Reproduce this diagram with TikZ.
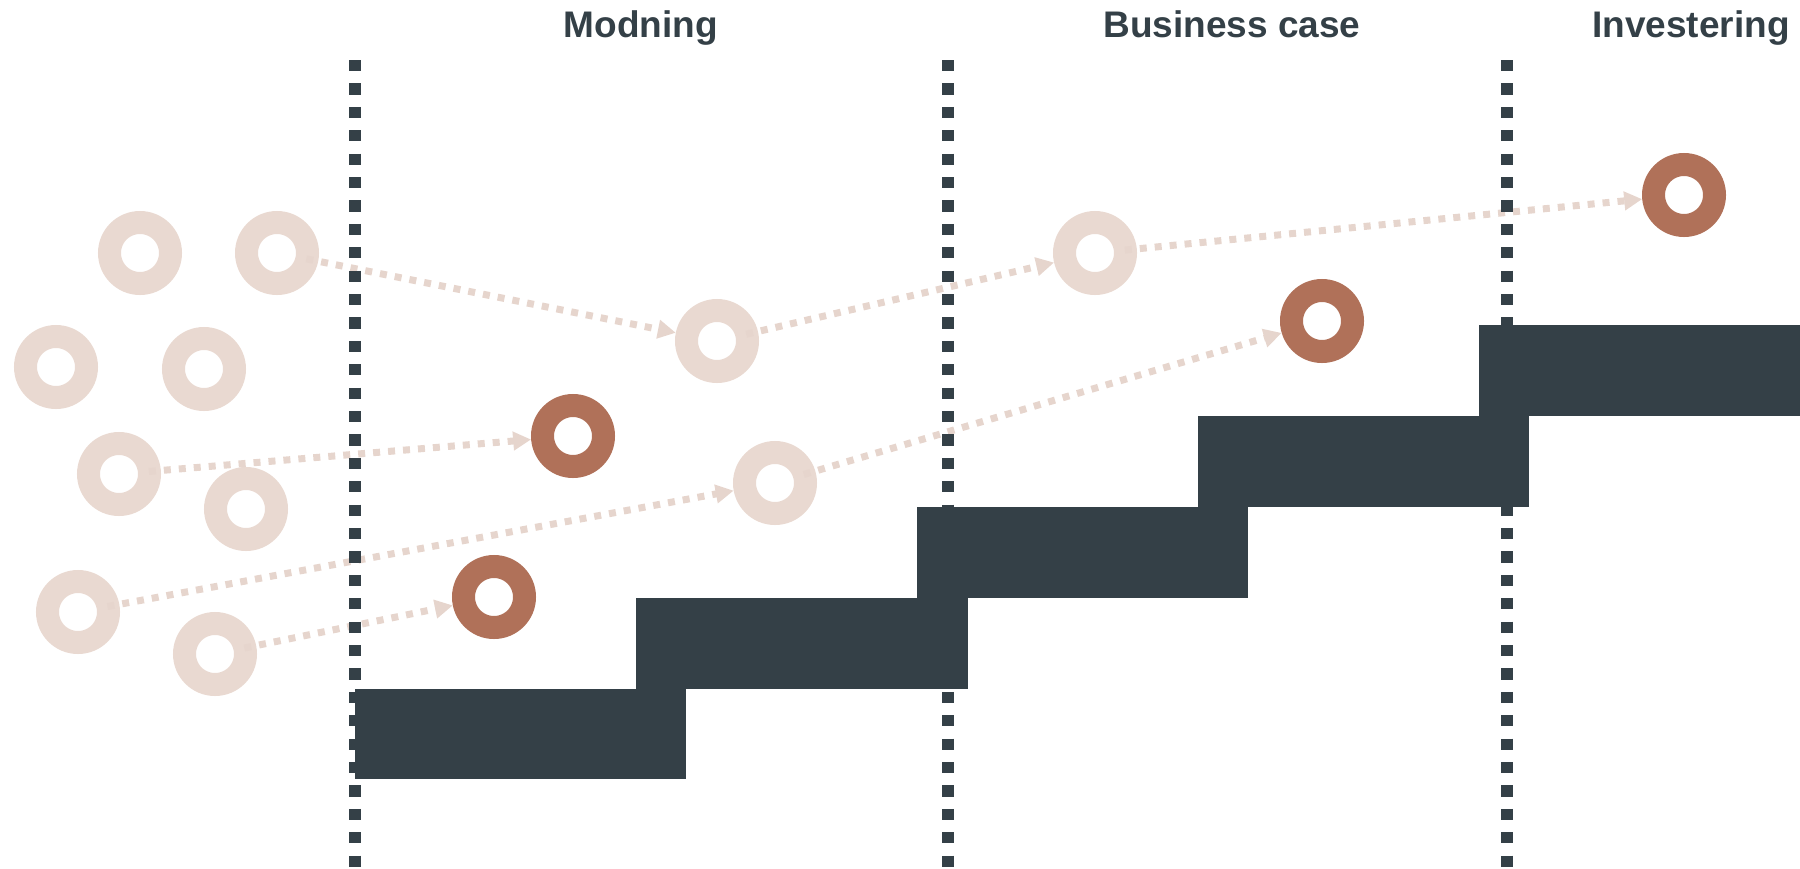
\documentclass[tikz,border=0pt]{standalone}
\usepackage{fontspec}
\setmainfont{Liberation Sans}
\usetikzlibrary{arrows.meta,calc}
\definecolor{slate}{HTML}{344047}
\definecolor{ringlight}{HTML}{E9D9D1}
\definecolor{ringdark}{HTML}{B07159}
\definecolor{dotc}{HTML}{E6D5CD}
\tikzset{
  lring/.style={circle,draw=ringlight,line width=11.5pt,minimum size=30.5pt,inner sep=0pt},
  dring/.style={circle,draw=ringdark,line width=11.5pt,minimum size=30.5pt,inner sep=0pt},
  flow/.style={draw=dotc,line width=3.5pt,dash pattern=on 3.5pt off 4pt,
    -{Triangle[length=9pt,width=9pt,fill=dotc,color=dotc]}},
  phase/.style={draw=slate,line width=6pt,dash pattern=on 5.6pt off 6.1pt},
  block/.style={fill=slate},
  title/.style={font=\bfseries\fontsize{18.5}{20}\selectfont,text=slate,anchor=base,inner sep=0pt}
}
\begin{document}
\begin{tikzpicture}[x=0.5pt,y=-0.5pt]
\useasboundingbox (0,0) rectangle (1800,868);
% rings
\node[lring] (A) at (140,253) {};
\node[lring] (B) at (277,253) {};
\node[lring] (C) at (56,367) {};
\node[lring] (D) at (204,369) {};
\node[lring] (E) at (119,474) {};
\node[lring] (F) at (246,509) {};
\node[lring] (G) at (78,612) {};
\node[lring] (H) at (215,654) {};
\node[lring] (I) at (717,341) {};
\node[lring] (J) at (775,483) {};
\node[lring] (K) at (1095,253) {};
\node[dring] (L) at (573,436) {};
\node[dring] (M) at (494,597) {};
\node[dring] (N) at (1322,321) {};
\node[dring] (O) at (1684,195) {};
% flows
\foreach \s/\t in {B/I,I/K,K/O,E/L,G/J,J/N,H/M}{
  \draw[flow] ($(\s)!15pt!(\t)$) -- ($(\t)!21pt!(\s)$);
}
% phase lines
\coordinate (p1t) at (355,60);  \coordinate (p1b) at (355,868);
\coordinate (p2t) at (948,60);  \coordinate (p2b) at (948,868);
\coordinate (p3t) at (1507,60); \coordinate (p3b) at (1507,868);
\draw[phase] (p1t) -- (p1b);
\draw[phase] (p2t) -- (p2b);
\draw[phase] (p3t) -- (p3b);
% stairs
\fill[block] (355,689) rectangle (686,779);
\fill[block] (636,598) rectangle (968,689);
\fill[block] (917,507) rectangle (1248,598);
\fill[block] (1198,416) rectangle (1529,507);
\fill[block] (1479,325) rectangle (1800,416);
% titles
\node[title] (t1) at (641,37) {Modning};
\node[title] (t2) at (1232,37) {Business case};
\node[title] (t3) at (1691,37) {Investering};
\end{tikzpicture}
\end{document}
